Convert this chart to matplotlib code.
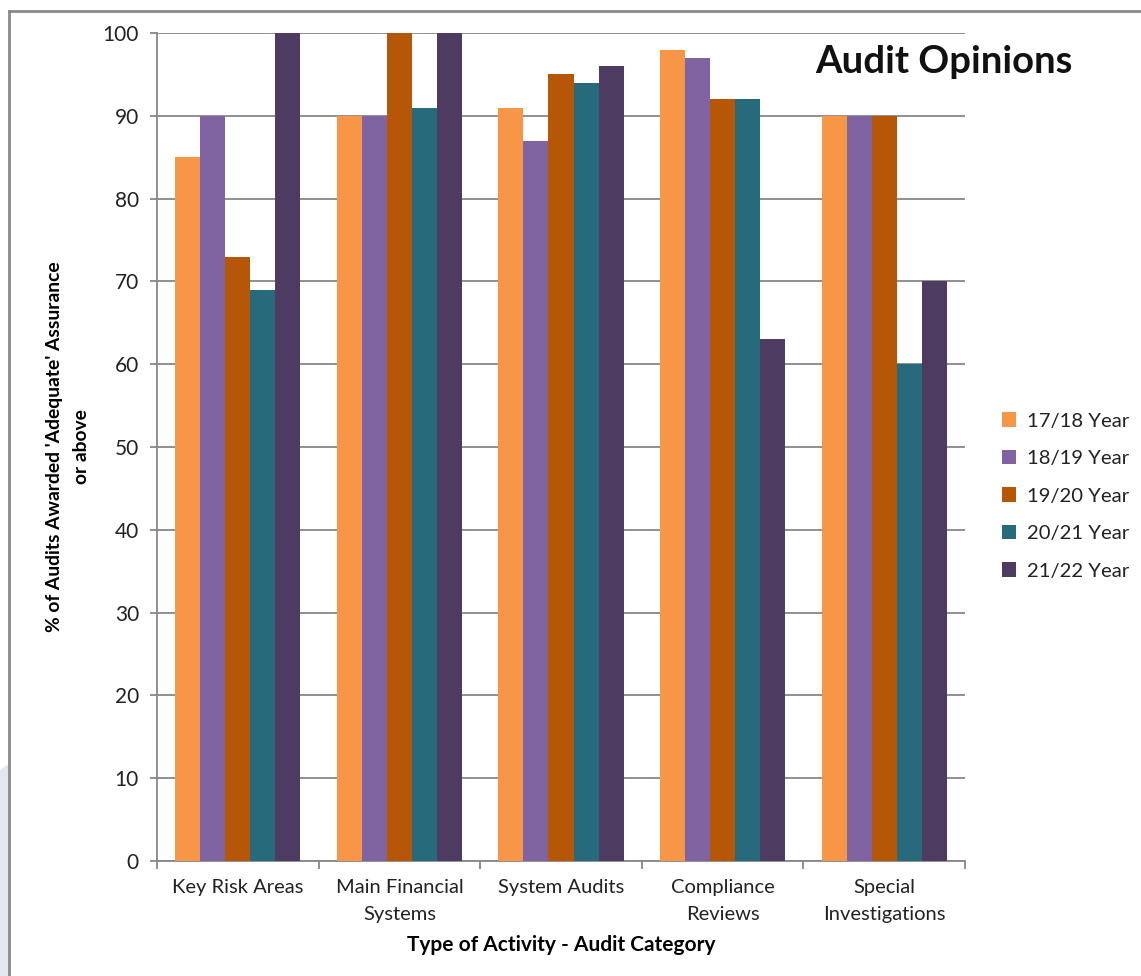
import numpy as np
import matplotlib
matplotlib.use("Agg")
import matplotlib.pyplot as plt
from matplotlib.lines import Line2D
from matplotlib.patches import Polygon

# Chart data
categories = ["Key Risk Areas", "Main Financial\nSystems", "System Audits",
              "Compliance\nReviews", "Special\nInvestigations"]
series_names = ["17/18 Year", "18/19 Year", "19/20 Year", "20/21 Year", "21/22 Year"]
year_1718 = [85, 90, 91, 98, 90]
year_1819 = [90, 90, 87, 97, 90]
year_1920 = [73, 100, 95, 92, 90]
year_2021 = [69, 91, 94, 92, 60]
year_2122 = [100, 100, 96, 63, 70]
y_ticks = [0, 10, 20, 30, 40, 50, 60, 70, 80, 90, 100]

colors = ["#F79646", "#8064A2", "#B65708", "#276A7C", "#4D3B62"]
grid_col = "#878787"

plt.rcParams['font.family'] = ['Lato', 'DejaVu Sans']

fig = plt.figure(figsize=(11.41, 9.76), dpi=100)
W, H = 1141, 976

# slide background bits outside the chart frame
fig.patches.append(Polygon([[0, 1 - 770 / H], [8 / W, 1 - 764 / H], [8 / W, 0], [0, 0]],
                           closed=True, transform=fig.transFigure,
                           facecolor="#E3E7F0", edgecolor="none"))
fig.lines.append(Line2D([8.5 / W, 1], [1 - 10.5 / H, 1 - 10.5 / H],
                        transform=fig.transFigure, color="#8A8A8A", lw=2))
fig.lines.append(Line2D([8.5 / W, 8.5 / W], [1 - 10.5 / H, 0],
                        transform=fig.transFigure, color="#8A8A8A", lw=2))

ax = fig.add_axes([157 / W, 1 - 861 / H, (965 - 157) / W, (861 - 33) / H])

all_series = [year_1718, year_1819, year_1920, year_2021, year_2122]
n = len(all_series)
bar_w = 0.155
x = np.arange(len(categories))
for i, (vals, name, c) in enumerate(zip(all_series, series_names, colors)):
    offs = (i - (n - 1) / 2) * bar_w
    ax.bar(x + offs, vals, width=bar_w, color=c, label=name, zorder=3)

ax.set_xlim(-0.5, len(categories) - 0.5)
ax.set_ylim(0, 100)
ax.set_yticks(y_ticks)
ax.tick_params(axis='y', length=5, width=1.3, color=grid_col, pad=8,
               labelsize=15, labelcolor="#222222")
ax.yaxis.grid(True, color=grid_col, lw=1.3, zorder=0)

# category boundaries get tick marks, labels sit in the middle
ax.set_xticks(np.arange(len(categories) + 1) - 0.5)
ax.set_xticklabels([])
ax.set_xticks(x, minor=True)
ax.set_xticklabels(categories, minor=True, fontsize=14.5, color="#222222",
                   linespacing=1.7)
ax.tick_params(axis='x', which='major', length=6, width=1.3, color=grid_col)
ax.tick_params(axis='x', which='minor', length=0, pad=13)

for s in ['top', 'right']:
    ax.spines[s].set_visible(False)
for s in ['left', 'bottom']:
    ax.spines[s].set_color(grid_col)
    ax.spines[s].set_linewidth(1.3)

ax.set_ylabel("% of Audits Awarded 'Adequate' Assurance\nor above",
              fontsize=13.9, fontweight='bold', labelpad=9, linespacing=1.75)
ax.set_xlabel("Type of Activity - Audit Category", fontsize=15,
              fontweight='bold', labelpad=9)

fig.text(944 / W, 1 - 62 / H, "Audit Opinions", fontsize=27.5, fontweight='bold',
         ha='center', va='center', color="#111111")

leg = ax.legend(loc='center left', bbox_to_anchor=(984 / W, 1 - 496 / H),
                bbox_transform=fig.transFigure, frameon=False, fontsize=14.6,
                handlelength=0.7, handleheight=0.7, handletextpad=0.5,
                labelspacing=1.0)
for t in leg.get_texts():
    t.set_color("#222222")

fig.savefig("out.png", dpi=100, facecolor="white")
